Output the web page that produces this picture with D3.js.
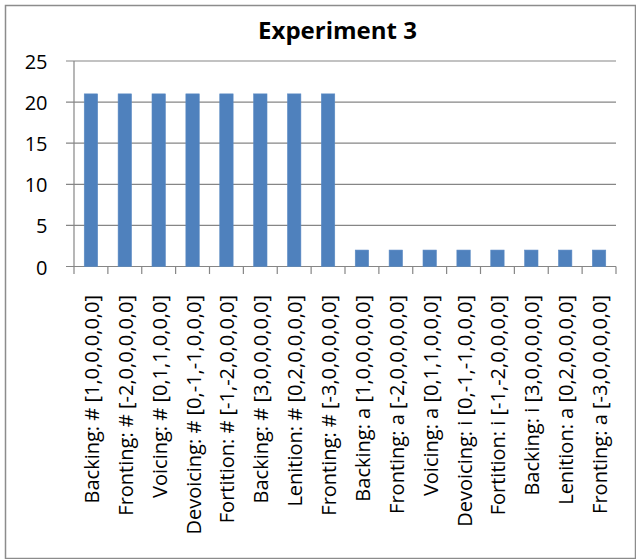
<!DOCTYPE html>
<html>
<head>
<meta charset="utf-8">
<script src="https://cdn.jsdelivr.net/npm/d3@7"></script>
<style>
  html, body { margin: 0; padding: 0; background: #fff; }
  svg { display: block; }
</style>
</head>
<body>
<svg id="chart" width="636" height="559"></svg>
<script>
// Counts per rule/segment condition
const categories = [
  "Backing: # [1,0,0,0,0,0]",
  "Fronting: # [-2,0,0,0,0,0]",
  "Voicing: # [0,1,1,0,0,0]",
  "Devoicing: # [0,-1,-1,0,0,0]",
  "Fortition: # [-1,-2,0,0,0,0]",
  "Backing: # [3,0,0,0,0,0]",
  "Lenition: # [0,2,0,0,0,0]",
  "Fronting: # [-3,0,0,0,0,0]",
  "Backing: a [1,0,0,0,0,0]",
  "Fronting: a [-2,0,0,0,0,0]",
  "Voicing: a [0,1,1,0,0,0]",
  "Devoicing: i [0,-1,-1,0,0,0]",
  "Fortition: i [-1,-2,0,0,0,0]",
  "Backing: i [3,0,0,0,0,0]",
  "Lenition: a [0,2,0,0,0,0]",
  "Fronting: a [-3,0,0,0,0,0]"
];
const values = [21, 21, 21, 21, 21, 21, 21, 21, 2, 2, 2, 2, 2, 2, 2, 2];
const yTicks = [0, 5, 10, 15, 20, 25];
const title = "Experiment 3";

const svg = d3.select("#chart");
const W = 636, H = 559;
const plot = { left: 74, right: 616, top: 61, bottom: 266.5 };
const gridColor = "#868686";
const font = "'Open Sans', 'Noto Sans', sans-serif";

// Outer chart frame
svg.append("rect")
  .attr("x", 5.5).attr("y", 5.5)
  .attr("width", W - 6).attr("height", H - 6)
  .attr("fill", "#fff")
  .attr("stroke", "#8c8c8c").attr("stroke-width", 1.5);

const x = d3.scaleBand()
  .domain(categories)
  .range([plot.left, plot.right])
  .paddingInner(0.605)
  .paddingOuter(0.3025);

const y = d3.scaleLinear()
  .domain([0, 25])
  .range([plot.bottom, plot.top]);

// Horizontal gridlines with outside tick stubs
svg.append("g")
  .selectAll("line")
  .data(yTicks)
  .join("line")
  .attr("x1", plot.left - 8).attr("x2", plot.right)
  .attr("y1", d => y(d)).attr("y2", d => y(d))
  .attr("stroke", gridColor).attr("stroke-width", 1.2);

// Y tick labels
svg.append("g")
  .selectAll("text")
  .data(yTicks)
  .join("text")
  .attr("x", 47.5)
  .attr("y", d => y(d) + 8)
  .attr("text-anchor", "end")
  .attr("font-family", font)
  .attr("font-size", 20)
  .attr("fill", "#000")
  .text(d => d);

// Vertical axis line
svg.append("line")
  .attr("x1", plot.left).attr("x2", plot.left)
  .attr("y1", plot.top).attr("y2", plot.bottom)
  .attr("stroke", gridColor).attr("stroke-width", 1.2);

// Bars
svg.append("g")
  .selectAll("rect")
  .data(values)
  .join("rect")
  .attr("x", (d, i) => x(categories[i]))
  .attr("width", x.bandwidth())
  .attr("y", d => y(d))
  .attr("height", d => y(0) - y(d))
  .attr("fill", "#4f81bd")
  .attr("stroke", "#5b8ac4").attr("stroke-width", 0.6);

// Category tick marks at band edges
const edges = categories.map(c => x(c) - x.step() * x.paddingOuter());
edges.push(plot.right);
svg.append("g")
  .selectAll("line")
  .data(edges)
  .join("line")
  .attr("x1", d => d).attr("x2", d => d)
  .attr("y1", plot.bottom).attr("y2", plot.bottom + 7.5)
  .attr("stroke", gridColor).attr("stroke-width", 1.2);

// Rotated category labels
svg.append("g")
  .selectAll("text")
  .data(categories)
  .join("text")
  .attr("transform", d => {
    const cx = x(d) + x.bandwidth() / 2 + 8;
    return `translate(${cx},295) rotate(-90)`;
  })
  .attr("text-anchor", "end")
  .attr("font-family", font)
  .attr("font-size", 20)
  .attr("fill", "#000")
  .text(d => d);

// Title
svg.append("text")
  .attr("x", 337.5).attr("y", 38.5)
  .attr("text-anchor", "middle")
  .attr("font-family", font)
  .attr("font-weight", "bold")
  .attr("font-size", 24)
  .attr("fill", "#000")
  .text(title);
</script>
</body>
</html>
